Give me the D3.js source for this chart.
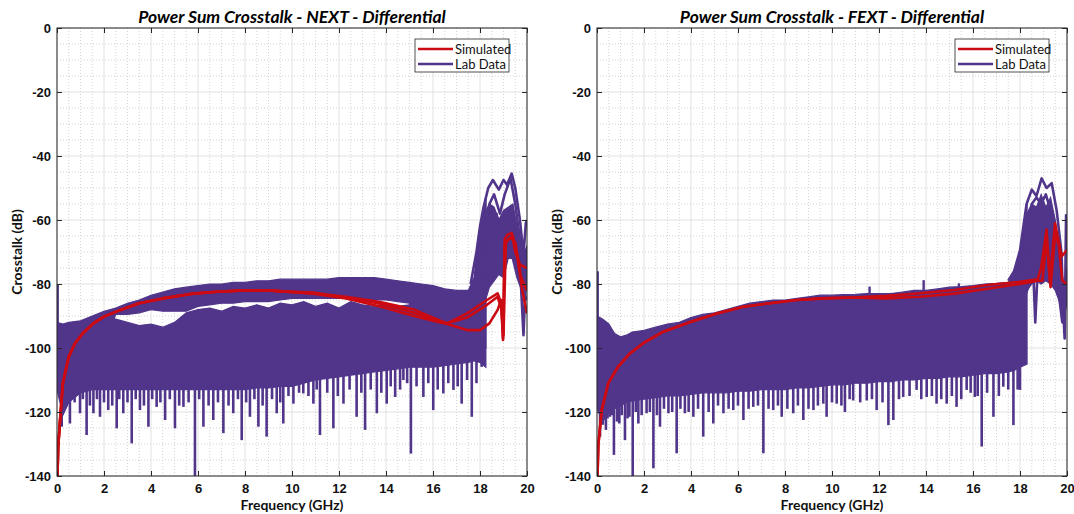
<!DOCTYPE html>
<html>
<head>
<meta charset="utf-8">
<script src="https://cdn.jsdelivr.net/npm/d3@7"></script>
<style>
  body { margin: 0; background: #fff; }
  svg { font-family: Lato, "Open Sans", sans-serif; }
</style>
</head>
<body>
<svg id="chart" width="1074" height="514"></svg>
<script>
// axis ticks + labels
const freqTicks = [0, 2, 4, 6, 8, 10, 12, 14, 16, 18, 20];
const dbTicks = [0, -20, -40, -60, -80, -100, -120, -140];
const legendLabels = ["Simulated", "Lab Data"];
const titles = ["Power Sum Crosstalk - NEXT - Differential", "Power Sum Crosstalk - FEXT - Differential"];

// ---- NEXT lab data: noise band envelopes ----
const nextFreq = [0, 0.25, 0.5, 1, 1.5, 2, 2.5, 3, 3.5, 4, 4.5, 5, 5.5, 6, 6.5, 7, 7.5, 8, 8.5, 9, 9.5, 10,
  10.5, 11, 11.5, 12, 12.5, 13, 13.5, 14, 14.5, 15, 15.5, 16, 16.5, 17, 17.5, 17.75, 18, 18.25];
const nextUpperTop = [-92, -92.5, -92, -91.5, -90, -88.5, -87.5, -86, -85, -83.5, -82.5, -81.5, -81, -80.5, -80, -80, -79.5, -79.5, -79, -79, -78.5, -78.5,
  -78.5, -78.5, -78.5, -78, -78, -78, -78, -78.5, -79, -79.5, -80, -80.5, -81.5, -82, -82, -78, -62, -53];
const nextUpperBottom = [-100, -100, -100, -100, -100, -100, -89.5, -89.5, -89, -88, -88.5, -88.5, -88.5, -87, -86.5, -86, -86, -85.5, -85.5, -85.5, -85, -84.5,
  -84.5, -84.5, -84.5, -84.5, -84.5, -85, -85, -85, -85.5, -86, -100, -100, -100, -100, -100, -100, -100, -100];
const nextLowerTop = [-92.5, -93, -92.5, -92, -92, -91.5, -91, -92, -93, -92.5, -93.5, -92, -89, -88, -87.5, -88.5, -87, -87.5, -86.5, -87.5, -86, -86.5,
  -85.5, -87, -86, -87.5, -85.5, -86.5, -87, -86, -87, -86.5, -86, -86, -86, -85, -84, -80, -62, -53];
const nextLowerBottom = [-113, -121, -117, -114, -113, -113, -113, -113, -113, -113, -113, -113, -113, -113, -113, -113, -113, -113, -112.5, -112.5, -112, -112,
  -111, -110, -109.5, -109, -108.5, -108, -107.5, -107, -106.5, -106, -106, -106, -105.5, -105, -104.5, -104, -104.5, -106];
const nextSpikeFreq = [0.2, 0.55, 0.98, 1.26, 1.55, 1.83, 2.18, 2.54, 2.82, 3.18, 3.53, 3.89, 4.24, 4.6, 5.02, 5.38, 5.87, 6.23, 6.65, 7.08,
  7.5, 7.86, 8.21, 8.57, 8.92, 9.35, 9.63, 10.06, 10.48, 10.91, 11.19, 11.76, 12.19, 12.75, 13.11, 13.61, 14.03, 14.39, 14.74, 15.06,
  15.59, 16.01, 16.44, 16.87, 17.22, 17.65, 18.07];
const nextSpikeDb = [-124.6, -123.6, -120.4, -127.2, -120.4, -121.5, -119.4, -125.1, -120.4, -129.8, -119.4, -124.6, -118.4, -122.5, -125.1, -118.4, -141, -124.6, -122.5, -126.6,
  -120.4, -128.8, -121.5, -124.6, -127.7, -120.4, -123.6, -117.4, -114.2, -117.4, -127.2, -125.1, -117.4, -121.5, -125.6, -120.4, -117.4, -115.3, -110, -133,
  -115.3, -119.4, -114.2, -113.1, -117.4, -121.5, -105.9];
// shorter spikes packed in the band's lower fringe
const nextShortFreq = [0.4, 0.75, 1.1, 1.4, 1.7, 2.0, 2.35, 2.65, 3.0, 3.35, 3.7, 4.05, 4.4, 4.8, 5.2, 5.6, 6.05, 6.45, 6.85, 7.3, 7.7, 8.05, 8.4,
  8.75, 9.15, 9.5, 9.85, 10.3, 10.7, 11.05, 11.5, 11.95, 12.45, 12.95, 13.35, 13.8, 14.2, 14.6, 14.9, 15.3, 15.8, 16.2, 16.65, 17.05, 17.45, 17.85];
const nextShortDb = [-118, -117, -116, -118, -116, -117, -118, -116, -117, -116, -118, -116, -117, -116, -118, -117, -116, -118, -117, -118, -116, -117, -116,
  -118, -116, -117, -115, -114, -115, -113, -114, -115, -113, -114, -113, -114, -112, -113, -111, -112, -111, -113, -111, -112, -110, -111];
const nextUpSpikeFreq = [0.03];
const nextUpSpikeDb = [-80];
// NEXT resonance region (18-20 GHz): solid core + individual traces
const nextResFreq = [18.2, 18.4, 18.6, 18.8, 19.0, 19.2, 19.4, 19.6, 19.8, 19.9, 20];
const nextResTop = [-58, -55, -56, -60, -57, -56, -55, -63, -74, -70, -68];
const nextResBottom = [-86, -81, -79, -77, -78, -72, -72, -77, -82, -84, -80];
const nextLabF1 = [17.6, 17.85, 18.0, 18.15, 18.35, 18.55, 18.8, 19.0, 19.15, 19.35, 19.5, 19.7, 19.85, 19.95, 20];
const nextLabDb1 = [-80, -70, -62, -56, -50, -47.5, -50.5, -47.5, -49, -45.5, -50, -60, -71, -61, -60];
const nextLabF2 = [17.7, 18.0, 18.2, 18.4, 18.6, 18.85, 19.05, 19.3, 19.5, 19.7, 19.9, 20];
const nextLabDb2 = [-82, -74, -64, -55, -52, -58, -52, -47, -55, -66, -78, -75];
const nextLabF3 = [17.8, 18.1, 18.3, 18.5, 18.7, 18.9, 19.1, 19.3, 19.5, 19.7, 19.85, 19.95, 20];
const nextLabDb3 = [-84, -78, -70, -62, -58, -65, -60, -58, -68, -74, -96, -78, -80];
const nextLabF4 = [18.0, 18.3, 18.6, 18.8, 19.0, 19.2, 19.4, 19.6, 19.8, 20];
const nextLabDb4 = [-86, -80, -72, -68, -72, -65, -72, -78, -82, -85];
// NEXT simulated traces
const nextSimMainFreq = [0.02, 0.05, 0.14, 0.25, 0.5, 0.77, 1.1, 1.55, 2, 2.7, 3.5, 4.5, 5.7, 6.8, 8, 9, 9.6];
const nextSimMainDb = [-140, -131, -121.5, -111, -102.7, -98.5, -95.4, -92.3, -90.2, -88.1, -86, -84.5, -83.1, -82.4, -82, -82, -82.3];
const nextSimTailFA = [10.9, 12.3, 13.75, 15.2, 16, 16.6, 17.45, 18.3, 18.75, 18.9, 18.98, 19.05, 19.15, 19.35, 19.5, 19.7, 20];
const nextSimTailDbA = [-82.9, -84, -85.6, -88, -90.5, -92.3, -89.2, -85, -82.9, -86, -97.5, -66, -64.7, -64, -70, -74, -75];
const nextSimTailFB = [10.9, 12.3, 13.75, 15.2, 16, 16.6, 17.45, 18, 18.4, 18.75, 18.9, 18.98, 19.05, 19.2, 19.4, 19.6, 19.8, 20];
const nextSimTailDbB = [-83, -84.5, -87, -90, -91.5, -92.5, -94.4, -94.4, -92.3, -88.1, -85, -97, -68, -66, -65, -72, -82, -89.2];
const nextSimTailFC = [10.9, 12.3, 13.75, 15.2, 16, 16.6, 17.45, 18.3, 18.75, 18.92, 19.0, 19.1, 19.3, 19.5, 19.75, 20];
const nextSimTailDbC = [-82.7, -84.2, -86.2, -89, -91, -92.3, -90.5, -86.5, -84, -88, -96, -67, -65.5, -67, -78, -82];

// ---- FEXT lab data ----
const fextFreq = [0, 0.25, 0.5, 0.75, 1, 1.25, 1.5, 2, 2.5, 3, 3.5, 4, 4.5, 5, 5.5, 6, 6.5, 7, 7.5, 8, 8.5, 9, 9.5, 10,
  10.5, 11, 11.5, 12, 12.5, 13, 13.5, 14, 14.5, 15, 15.5, 16, 16.5, 17, 17.5, 17.75, 18, 18.3];
const fextTop = [-90, -91, -92.5, -95.5, -96.5, -96, -95, -94.5, -93.5, -92.5, -92, -90.5, -89.5, -89, -88, -87, -86, -85.5, -85, -85, -84.5, -84, -83.5, -83.5,
  -83.3, -83.2, -83, -83, -83, -82.5, -82, -82, -81.5, -81, -80.8, -80.5, -80, -79.8, -79.5, -77, -69.5, -55];
const fextBottom = [-119, -123, -120, -119, -118, -117, -116.5, -116, -115.5, -115, -115, -114.5, -114, -114, -114, -113.5, -113.5, -113, -113, -113, -112.5, -112.5, -112, -111.5,
  -111.5, -111, -111, -110.5, -110.5, -110, -110, -109.5, -109.5, -109, -109, -108.5, -108, -108, -107.5, -107, -106, -105];
const fextSpikeFreq = [0.13, 0.38, 0.55, 0.72, 0.95, 1.19, 1.38, 1.52, 1.76, 2.11, 2.4, 2.68, 3.04, 3.39, 3.74, 4.1, 4.52, 4.95, 5.38, 5.8,
  6.23, 6.65, 7.08, 7.5, 7.86, 8.35, 8.78, 9.21, 9.63, 9.77, 10.2, 10.55, 10.9, 11.48, 11.9, 12.4, 12.61, 13.03, 13.6, 14.03,
  14.45, 14.88, 15.3, 15.73, 16.08, 16.37, 16.87, 17.29, 17.72, 18.0];
const fextSpikeDb = [-127.7, -125.6, -121.5, -133.4, -123.6, -128.8, -121.5, -141, -123.6, -120.4, -137.6, -124.6, -120.4, -132.9, -120.4, -121.5, -127.7, -123.6, -120.4, -119.4,
  -122.5, -118.4, -132.9, -119.4, -121.5, -120.4, -122.5, -119.4, -117.4, -121.5, -117.4, -120, -116.4, -116.4, -119.4, -124.1, -122.5, -115.3, -113.1, -115.3,
  -117.4, -117.4, -118.4, -113.1, -115.3, -130.8, -121.5, -112.1, -124.1, -113.1];
const fextShortFreq = [0.25, 0.45, 0.65, 0.85, 1.05, 1.3, 1.65, 1.9, 2.25, 2.55, 2.85, 3.2, 3.55, 3.9, 4.3, 4.75, 5.15, 5.6, 6.0, 6.45, 6.85, 7.3, 7.7,
  8.1, 8.55, 9.0, 9.4, 10.0, 10.4, 10.75, 11.2, 11.7, 12.15, 12.85, 13.3, 13.8, 14.25, 14.65, 15.1, 15.5, 15.9, 16.2, 16.6, 17.1, 17.5, 17.9];
const fextShortDb = [-124, -122, -121, -123, -121, -122, -120, -121, -120, -121, -119, -120, -119, -120, -119, -120, -118, -119, -118, -119, -118, -119, -118,
  -119, -118, -119, -118, -117, -118, -116, -117, -116, -117, -116, -115, -116, -115, -116, -115, -116, -114, -115, -114, -115, -113, -113];
const fextUpSpikeFreq = [0.03, 11.6, 13.9, 15.4];
const fextUpSpikeDb = [-76, -80.8, -78.8, -79.8];
const fextResFreq = [18.3, 18.5, 18.7, 18.9, 19.1, 19.3, 19.5, 19.7, 19.85, 20];
const fextResTop = [-58, -55, -56, -52, -56, -53, -60, -72, -80, -75];
const fextResBottom = [-82, -80, -79, -80, -79, -80, -82, -86, -90, -85];
const fextLabF1 = [17.5, 17.75, 18, 18.28, 18.5, 18.7, 18.92, 19.13, 19.35, 19.56, 19.77, 19.84, 19.9, 19.96, 20];
const fextLabDb1 = [-79, -76, -69.5, -55, -50.5, -52.5, -47, -50, -48.5, -57, -70.5, -88, -97, -58.5, -59];
const fextLabF2 = [17.75, 18.05, 18.3, 18.5, 18.7, 18.9, 19.1, 19.3, 19.5, 19.7, 19.85, 20];
const fextLabDb2 = [-79, -74, -63, -55, -53, -55, -52, -57, -65, -76, -84, -80];
const fextLabF3 = [18, 18.3, 18.5, 18.65, 18.8, 19.0, 19.2, 19.4, 19.6, 19.8, 20];
const fextLabDb3 = [-80, -72, -64, -92, -68, -62, -72, -70, -80, -92, -85];
const fextLabF4 = [18.2, 18.5, 18.75, 19, 19.25, 19.5, 19.75, 20];
const fextLabDb4 = [-84, -78, -72, -78, -76, -80, -84, -82];
const fextSimMainFreq = [0.02, 0.06, 0.2, 0.48, 0.9, 1.4, 1.97, 2.82, 4, 5.1, 6.23, 7.36, 8.5, 9.6, 10.9];
const fextSimMainDb = [-140, -130, -119.4, -111, -105.8, -101.7, -98.5, -94.9, -91.8, -89.2, -87.1, -86, -85, -84.5, -84.2];
const fextSimTailFA = [12.3, 13.75, 15.2, 16.6, 18, 18.75, 18.9, 19.13, 19.27, 19.49, 19.77, 20];
const fextSimTailDbA = [-83.7, -82.9, -81.9, -80.3, -79.3, -78.5, -75, -63, -79, -61, -71.4, -69.4];
const fextSimTailFB = [12.3, 13.75, 15.2, 16.6, 18, 18.75, 18.95, 19.13, 19.3, 19.5, 19.65, 19.8, 20];
const fextSimTailDbB = [-84.5, -84, -83, -81.5, -80, -79, -79, -66, -81, -64, -68, -79, -80];

const purple = "#50358a";
const red = "#cc0a12";
const plotTop = 28, plotBottom = 476, plotWidth = 470;

const svg = d3.select("#chart");

function zipPts(fs, ds) { return fs.map((f, i) => [f, ds[i]]); }

function drawPanel(idx, cfg) {
  const left = cfg.left;
  const x = d3.scaleLinear().domain([0, 20]).range([left, left + plotWidth]);
  const y = d3.scaleLinear().domain([-140, 0]).range([plotBottom, plotTop]);
  const g = svg.append("g");

  // grid: minor dotted, major solid
  const minorX = d3.range(0, 20.01, 0.5).filter(v => v % 2 !== 0);
  const minorY = d3.range(-140, 0.01, 5).filter(v => v % 20 !== 0);
  g.append("g").selectAll("line").data(minorX).join("line")
    .attr("x1", d => x(d)).attr("x2", d => x(d)).attr("y1", plotTop).attr("y2", plotBottom)
    .attr("stroke", "#c8c8c8").attr("stroke-dasharray", "1,2").attr("stroke-width", 0.8);
  g.append("g").selectAll("line").data(minorY).join("line")
    .attr("x1", left).attr("x2", left + plotWidth).attr("y1", d => y(d)).attr("y2", d => y(d))
    .attr("stroke", "#c8c8c8").attr("stroke-dasharray", "1,2").attr("stroke-width", 0.8);
  g.append("g").selectAll("line").data(freqTicks).join("line")
    .attr("x1", d => x(d)).attr("x2", d => x(d)).attr("y1", plotTop).attr("y2", plotBottom)
    .attr("stroke", "#dadada").attr("stroke-width", 0.8);
  g.append("g").selectAll("line").data(dbTicks).join("line")
    .attr("x1", left).attr("x2", left + plotWidth).attr("y1", d => y(d)).attr("y2", d => y(d))
    .attr("stroke", "#dadada").attr("stroke-width", 0.8);

  // clip for data
  svg.append("clipPath").attr("id", "clip" + idx).append("rect")
    .attr("x", left).attr("y", plotTop).attr("width", plotWidth).attr("height", plotBottom - plotTop);
  const plot = g.append("g").attr("clip-path", `url(#clip${idx})`);

  // lab data bands
  cfg.bands.forEach(b => {
    const rows = b.freq.map((f, i) => ({ f, hi: b.hi[i], lo: b.lo[i] }));
    plot.append("path").datum(rows)
      .attr("d", d3.area().x(d => x(d.f)).y0(d => y(d.lo)).y1(d => y(d.hi)))
      .attr("fill", purple).attr("stroke", purple).attr("stroke-width", 1.2);
  });

  // downward spikes from band bottom
  const bottomAt = d3.scaleLinear().domain(cfg.bottomFreq).range(cfg.bottom).clamp(true);
  const spikes = zipPts(cfg.spikeFreq, cfg.spikeDb).concat(zipPts(cfg.shortFreq, cfg.shortDb));
  plot.append("g").selectAll("line").data(spikes).join("line")
    .attr("x1", d => x(d[0])).attr("x2", d => x(d[0]))
    .attr("y1", d => y(bottomAt(d[0]) + 2)).attr("y2", d => y(d[1]))
    .attr("stroke", purple).attr("stroke-width", 2.6);
  const topAt = d3.scaleLinear().domain(cfg.bottomFreq).range(cfg.top).clamp(true);
  plot.append("g").selectAll("line").data(zipPts(cfg.upFreq, cfg.upDb)).join("line")
    .attr("x1", d => x(d[0])).attr("x2", d => x(d[0]))
    .attr("y1", d => y(topAt(d[0]) - 2)).attr("y2", d => y(d[1]))
    .attr("stroke", purple).attr("stroke-width", 2.4);

  const line = d3.line().x(d => x(d[0])).y(d => y(d[1]));
  cfg.labTraces.forEach(t => {
    plot.append("path").datum(zipPts(t[0], t[1])).attr("d", line)
      .attr("fill", "none").attr("stroke", purple).attr("stroke-width", 2.6).attr("stroke-linejoin", "round");
  });
  cfg.simTraces.forEach(t => {
    plot.append("path").datum(zipPts(t[0], t[1])).attr("d", line)
      .attr("fill", "none").attr("stroke", red).attr("stroke-width", 2.6).attr("stroke-linejoin", "round");
  });

  // axes, ticks inward on all four sides
  const fmt = d => String(d);
  const axStyle = a => {
    a.select(".domain").remove();
    a.selectAll("line").attr("stroke", "#262626");
    a.selectAll("text").attr("fill", "#111").attr("font-size", 13).attr("font-weight", "bold");
  };
  g.append("g").attr("transform", `translate(0,${plotBottom})`)
    .call(d3.axisBottom(x).tickValues(freqTicks).tickSizeInner(-5).tickSizeOuter(0).tickPadding(8).tickFormat(fmt)).call(axStyle);
  g.append("g").attr("transform", `translate(0,${plotTop})`)
    .call(d3.axisTop(x).tickValues(freqTicks).tickSizeInner(-5).tickSizeOuter(0).tickFormat("")).call(axStyle);
  g.append("g").attr("transform", `translate(${left},0)`)
    .call(d3.axisLeft(y).tickValues(dbTicks).tickSizeInner(-5).tickSizeOuter(0).tickPadding(6).tickFormat(fmt)).call(axStyle);
  g.append("g").attr("transform", `translate(${left + plotWidth},0)`)
    .call(d3.axisRight(y).tickValues(dbTicks).tickSizeInner(-5).tickSizeOuter(0).tickFormat("")).call(axStyle);
  g.append("rect").attr("x", left).attr("y", plotTop).attr("width", plotWidth).attr("height", plotBottom - plotTop)
    .attr("fill", "none").attr("stroke", "#262626").attr("stroke-width", 1);

  // titles and labels
  g.append("text").attr("x", left + plotWidth / 2).attr("y", 23).attr("text-anchor", "middle")
    .attr("font-size", 17.5).attr("font-weight", "bold").attr("font-style", "italic").attr("fill", "#000")
    .text(titles[idx]);
  g.append("text").attr("x", left + plotWidth / 2).attr("y", 510).attr("text-anchor", "middle")
    .attr("font-size", 14).attr("font-weight", "bold").attr("fill", "#111").text("Frequency (GHz)");
  g.append("text").attr("transform", `translate(${left - 40},${(plotTop + plotBottom) / 2}) rotate(-90)`)
    .attr("text-anchor", "middle").attr("dy", "0.35em")
    .attr("font-size", 14).attr("font-weight", "bold").attr("fill", "#111").text("Crosstalk (dB)");

  // legend
  const lx = left + plotWidth - 112, ly = 39;
  const lg = g.append("g");
  lg.append("rect").attr("x", lx).attr("y", ly).attr("width", 94).attr("height", 33)
    .attr("fill", "#fff").attr("stroke", "#262626").attr("stroke-width", 0.8);
  [red, purple].forEach((c, i) => {
    const yy = ly + 10 + i * 15;
    lg.append("line").attr("x1", lx + 3).attr("x2", lx + 38).attr("y1", yy).attr("y2", yy)
      .attr("stroke", c).attr("stroke-width", 2.5);
    lg.append("text").attr("x", lx + 40).attr("y", yy).attr("dy", "0.35em")
      .attr("font-size", 13).attr("fill", "#111").text(legendLabels[i]);
  });
}

drawPanel(0, {
  left: 57,
  bands: [
    { freq: nextFreq, hi: nextUpperTop, lo: nextUpperBottom },
    { freq: nextFreq, hi: nextLowerTop, lo: nextLowerBottom },
    { freq: nextResFreq, hi: nextResTop, lo: nextResBottom }
  ],
  bottomFreq: nextFreq, bottom: nextLowerBottom, top: nextUpperTop,
  spikeFreq: nextSpikeFreq, spikeDb: nextSpikeDb,
  shortFreq: nextShortFreq, shortDb: nextShortDb,
  upFreq: nextUpSpikeFreq, upDb: nextUpSpikeDb,
  labTraces: [[nextLabF1, nextLabDb1], [nextLabF2, nextLabDb2], [nextLabF3, nextLabDb3], [nextLabF4, nextLabDb4]],
  simTraces: [
    [nextSimMainFreq.concat(nextSimTailFA), nextSimMainDb.concat(nextSimTailDbA)],
    [nextSimMainFreq.concat(nextSimTailFB), nextSimMainDb.concat(nextSimTailDbB)],
    [nextSimMainFreq.concat(nextSimTailFC), nextSimMainDb.concat(nextSimTailDbC)]
  ]
});

drawPanel(1, {
  left: 597,
  bands: [
    { freq: fextFreq, hi: fextTop, lo: fextBottom },
    { freq: fextResFreq, hi: fextResTop, lo: fextResBottom }
  ],
  bottomFreq: fextFreq, bottom: fextBottom, top: fextTop,
  spikeFreq: fextSpikeFreq, spikeDb: fextSpikeDb,
  shortFreq: fextShortFreq, shortDb: fextShortDb,
  upFreq: fextUpSpikeFreq, upDb: fextUpSpikeDb,
  labTraces: [[fextLabF1, fextLabDb1], [fextLabF2, fextLabDb2], [fextLabF3, fextLabDb3], [fextLabF4, fextLabDb4]],
  simTraces: [
    [fextSimMainFreq.concat(fextSimTailFA), fextSimMainDb.concat(fextSimTailDbA)],
    [fextSimMainFreq.concat(fextSimTailFB), fextSimMainDb.concat(fextSimTailDbB)]
  ]
});
</script>
</body>
</html>
